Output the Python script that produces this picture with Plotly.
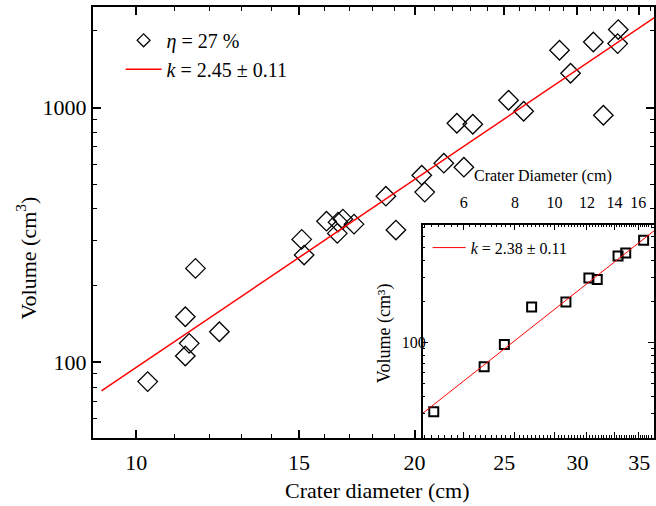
import plotly.graph_objects as go
import numpy as np

# ---------------- data ----------------
# main panel: crater diameter (cm) vs volume (cm^3)
main_diameter = [10.29, 11.30, 11.41, 11.30, 11.59, 12.30, 15.10, 15.19, 16.06, 16.50,
                 16.53, 16.73, 17.20, 18.62, 19.09, 20.36, 20.51, 21.51, 22.61, 22.22,
                 23.12, 25.27, 26.24, 28.69, 29.49, 31.21, 32.00, 33.21, 33.16]
main_volume = [84.0, 105.9, 118.7, 151.0, 233.7, 131.8, 303.7, 263.6, 358.0, 320.6,
               354.9, 364.7, 348.6, 448.7, 330.4, 542.6, 465.7, 604.6, 583.3, 867.8,
               860.0, 1068, 967, 1678, 1363, 1808, 932.8, 2023, 1782]
main_k = 2.45
main_log_a = -0.47
main_fit_range = [9.17, 40.0]

# inset panel
inset_diameter = [5.07, 6.73, 7.54, 8.79, 10.66, 12.13, 12.71, 14.29, 14.92, 16.50]
inset_volume = [30.7, 65.8, 96.2, 181.8, 197.8, 297.0, 289.0, 431.0, 453.5, 562.0]
inset_k = 2.38
inset_log_a = -0.138
inset_fit_range = [4.7, 18.5]

main_x_ticks = [10, 15, 20, 25, 30, 35]
main_x_minor_bottom = [9, 11, 12, 13, 14, 16, 17, 18, 19, 21]
main_x_minor_all = [9, 11, 12, 13, 14, 16, 17, 18, 19, 21, 22, 23, 24, 26, 27, 28, 29,
                    31, 32, 33, 34, 36, 37, 38, 39]
main_y_ticks = [100, 1000]
main_y_minor = [60, 70, 80, 90, 200, 300, 400, 500, 600, 700, 800, 900, 2000]

inset_x_ticks = [6, 8, 10, 12, 14, 16]
inset_x_minor = [round(v, 2) for v in np.arange(4.8, 18.01, 0.2)]
inset_y_ticks = [100]
inset_y_minor = [20, 30, 40, 50, 60, 70, 80, 90, 200, 300, 400, 500, 600, 700]

FONT = "Liberation Serif"

fig = go.Figure()

fig.add_trace(go.Scatter(
    x=main_diameter, y=main_volume, mode="markers",
    marker=dict(symbol="diamond-open", size=15, color="black", line=dict(width=1.3, color="black")),
    name="<i>η</i> = 27 %", showlegend=False))
# legend entry with a smaller symbol, as in the original legend
fig.add_trace(go.Scatter(
    x=[None], y=[None], mode="markers",
    marker=dict(symbol="diamond-open", size=10, color="black", line=dict(width=1.2, color="black")),
    name="<i>η</i> = 27 %", legend="legend"))

mx = np.array(main_fit_range)
fig.add_trace(go.Scatter(
    x=mx, y=10 ** (main_log_a + main_k * np.log10(mx)), mode="lines",
    line=dict(color="red", width=1.5),
    name="<i>k</i> = 2.45 ± 0.11", legend="legend"))

fig.add_trace(go.Scatter(
    x=inset_diameter, y=inset_volume, mode="markers", xaxis="x2", yaxis="y2",
    marker=dict(symbol="square-open", size=9, color="black", line=dict(width=2, color="black")),
    showlegend=False))

ix = np.array(inset_fit_range)
fig.add_trace(go.Scatter(
    x=ix, y=10 ** (inset_log_a + inset_k * np.log10(ix)), mode="lines", xaxis="x2", yaxis="y2",
    line=dict(color="red", width=1),
    name="<i>k</i> = 2.38 ± 0.11", legend="legend2"))

# invisible trace that anchors the top mirror axis
fig.add_trace(go.Scatter(x=[20], y=[200], xaxis="x3", yaxis="y", mode="markers",
                         marker=dict(opacity=0), showlegend=False, hoverinfo="skip"))

xr = [np.log10(8.98), np.log10(36.3)]
yr = [1.703, 3.3945]

common_axis = dict(showline=True, linecolor="black", ticks="inside", tickcolor="black",
                   showgrid=False, zeroline=False, type="log")

fig.update_layout(
    width=656, height=506,
    margin=dict(l=93.3, r=0, t=6.7, b=68.3),
    paper_bgcolor="white", plot_bgcolor="white",
    font=dict(family=FONT, color="black"),
    xaxis=dict(**common_axis, domain=[0, 1], range=xr, linewidth=2, ticklen=8, tickwidth=1.5,
               tickvals=main_x_ticks, ticktext=[str(v) for v in main_x_ticks],
               tickfont=dict(size=22, family=FONT), ticklabelstandoff=4,
               minor=dict(tickvals=main_x_minor_bottom, ticklen=4, tickwidth=1.2, ticks="inside"),
               anchor="y", mirror=False),
    xaxis3=dict(**common_axis, range=xr, overlaying="x", side="top", linewidth=2, ticklen=8,
                tickwidth=1.5, tickvals=main_x_ticks, showticklabels=False,
                minor=dict(tickvals=main_x_minor_all, ticklen=4, tickwidth=1.2, ticks="inside"),
                anchor="y"),
    yaxis=dict(**common_axis, domain=[0, 1], range=yr, linewidth=2, ticklen=8, tickwidth=1.5,
               tickvals=main_y_ticks, ticktext=["100", "1000"],
               tickfont=dict(size=22, family=FONT),
               minor=dict(tickvals=main_y_minor, ticklen=4, tickwidth=1.2, ticks="inside"),
               mirror="ticks", anchor="x"),
    xaxis2=dict(**common_axis, domain=[0.5877, 1.0], range=[0.678, 1.2428], side="top",
                linewidth=1.5, ticklen=6, tickwidth=1.2, tickvals=inset_x_ticks,
                ticktext=[str(v) for v in inset_x_ticks], tickfont=dict(size=16, family=FONT),
                ticklabelstandoff=8,
                minor=dict(tickvals=inset_x_minor, ticklen=3, tickwidth=1, ticks="inside"),
                mirror="ticks", anchor="y2"),
    yaxis2=dict(**common_axis, domain=[0, 0.4951], range=[1.294, 2.8654],
                linewidth=1.5, ticklen=6, tickwidth=1.2, tickvals=inset_y_ticks,
                ticktext=["100"], tickfont=dict(size=16, family=FONT), ticklabelstandoff=-8,
                minor=dict(tickvals=inset_y_minor, ticklen=3, tickwidth=1, ticks="inside"),
                mirror="ticks", anchor="x2"),
    legend=dict(x=0.0492, y=0.968, xanchor="left", yanchor="top", bgcolor="rgba(0,0,0,0)",
                font=dict(size=20, family=FONT), itemwidth=36, borderwidth=0, tracegroupgap=0),
    legend2=dict(x=0.5966, y=0.481, xanchor="left", yanchor="top", bgcolor="rgba(0,0,0,0)",
                 font=dict(size=16, family=FONT), itemwidth=33, borderwidth=0),
    annotations=[
        dict(text="Volume (cm<sup>3</sup>)", xref="paper", yref="paper", x=-0.1196, y=0.4186,
             textangle=-90, showarrow=False, xanchor="center", yanchor="middle",
             font=dict(size=22, family=FONT)),
        dict(text="Crater diameter (cm)", xref="paper", yref="paper", x=0.506, y=-0.1213,
             showarrow=False, xanchor="center", yanchor="middle", font=dict(size=22, family=FONT)),
        dict(text="Crater Diameter (cm)", xref="paper", yref="paper", x=0.8027, y=0.609,
             showarrow=False, xanchor="center", yanchor="middle", font=dict(size=16, family=FONT)),
        dict(text="Volume (cm³)", xref="paper", yref="paper", x=0.5184, y=0.2429,
             textangle=-90, showarrow=False, xanchor="center", yanchor="middle",
             font=dict(size=18, family=FONT)),
    ],
)

fig.write_html("out.html", config={"displayModeBar": False},
               post_script="document.body.style.margin='0';")
